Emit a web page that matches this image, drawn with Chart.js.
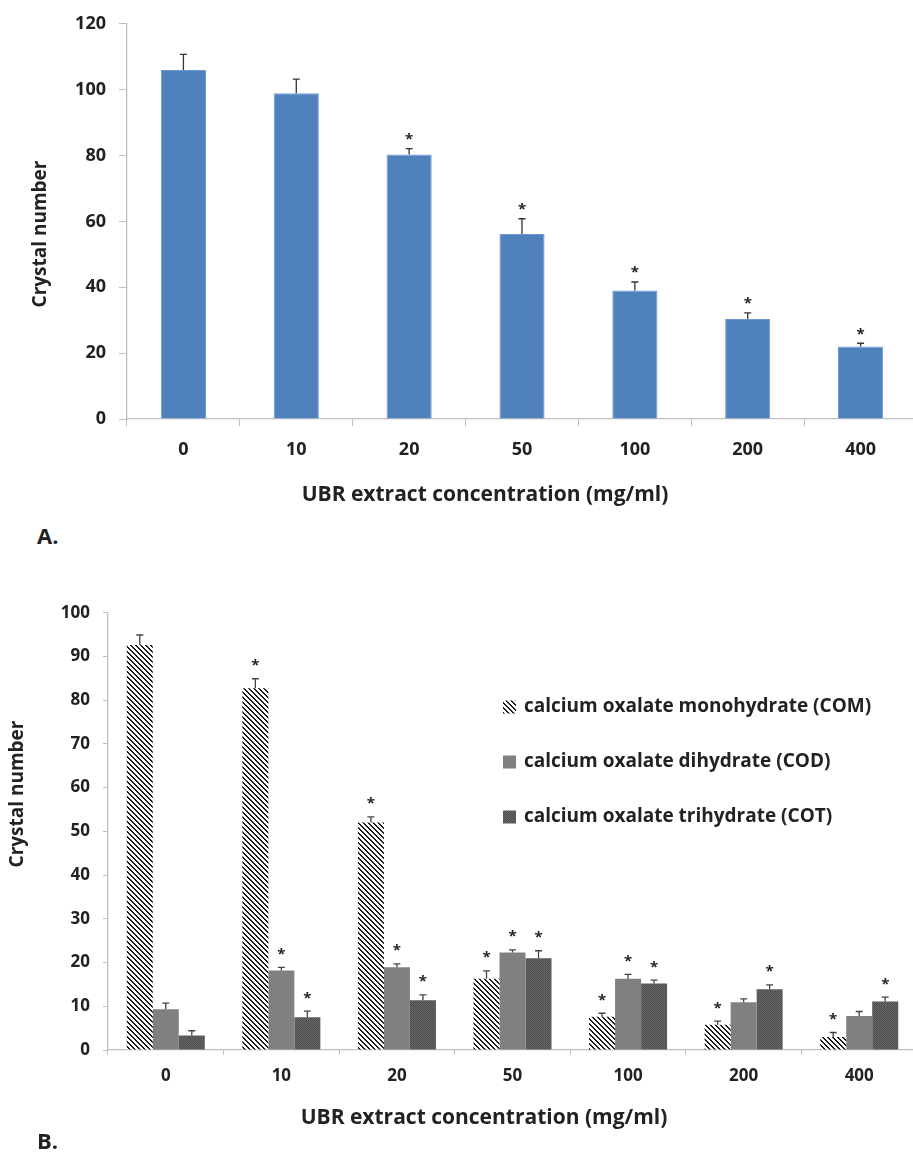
<!DOCTYPE html>
<html>
<head>
  <meta charset="utf-8">
  <title>Crystal number vs UBR extract concentration</title>
  <script src="https://cdn.jsdelivr.net/npm/chart.js"></script>
  <style>
    body { margin: 0; background: #fff; }
    #page { position: relative; width: 913px; height: 1156px; overflow: hidden; }
    canvas { position: absolute; left: 0; }
    #chartA { top: 0; }
    #chartB { top: 575px; }
    .panel { position: absolute; left: 37px; font: bold 22px "Open Sans", sans-serif; line-height: 22px; color: #222; }
  </style>
</head>
<body>
  <div id="page">
    <canvas id="chartA" width="920" height="520"></canvas>
    <canvas id="chartB" width="920" height="581"></canvas>
    <div class="panel" style="top:524px">A.</div>
    <div class="panel" style="top:1129px">B.</div>
  </div>

  <script>
    // shared categories
    var concentrations = ['0', '10', '20', '50', '100', '200', '400'];

    // panel A: total crystals
    var totalCrystals = [106.0, 98.9, 80.3, 56.2, 39.0, 30.4, 22.0];
    var totalErr      = [4.7, 4.3, 1.8, 4.6, 2.6, 1.8, 1.0];
    var totalSig      = [false, false, true, true, true, true, true];

    // panel B: crystal types
    var comValues = [92.6, 82.7, 52.0, 16.3, 7.6, 5.8, 3.0];
    var comErr    = [2.3, 2.2, 1.3, 1.8, 0.8, 0.8, 1.0];
    var comSig    = [false, true, true, true, true, true, true];
    var codValues = [9.3, 18.2, 18.9, 22.3, 16.3, 10.9, 7.8];
    var codErr    = [1.4, 0.7, 0.8, 0.6, 1.0, 0.8, 1.0];
    var codSig    = [false, true, true, true, true, false, false];
    var cotValues = [3.3, 7.5, 11.4, 21.0, 15.2, 13.9, 11.1];
    var cotErr    = [1.1, 1.4, 1.2, 1.7, 0.8, 1.0, 1.0];
    var cotSig    = [false, true, true, true, true, true, true];

    var yTicksA = { min: 0, max: 120, step: 20 };
    var yTicksB = { min: 0, max: 100, step: 10 };

    var FONT = '"Open Sans", sans-serif';
    var TEXT = '#222';
    var AXIS = '#bfbfbf';

    // small pixel patterns for the B bars
    function makePattern(size, pick) {
      var c = document.createElement('canvas');
      c.width = size; c.height = size;
      var g = c.getContext('2d');
      for (var px = 0; px < size; px++) {
        for (var py = 0; py < size; py++) {
          g.fillStyle = pick(px, py);
          g.fillRect(px, py, 1, 1);
        }
      }
      return g.createPattern(c, 'repeat');
    }
    var stripes = makePattern(5, function(x, y) {
      return (((x - y) % 5) + 5) % 5 < 2 ? '#1e1e1e' : '#ffffff';
    });
    var checker = makePattern(2, function(x, y) {
      return (x + y) % 2 ? '#4e4e4e' : '#666666';
    });

    // error bars, significance stars, axis titles and legend
    var annotate = {
      id: 'annotate',
      afterDatasetsDraw: function(chart, args, opts) {
        var ctx = chart.ctx;
        var yScale = chart.scales.y;
        ctx.save();
        chart.data.datasets.forEach(function(ds, di) {
          var meta = chart.getDatasetMeta(di);
          meta.data.forEach(function(bar, i) {
            var top = yScale.getPixelForValue(ds.data[i] + ds.errors[i]);
            ctx.strokeStyle = opts.errColor;
            ctx.lineWidth = 1.3;
            ctx.beginPath();
            ctx.moveTo(bar.x, bar.y);
            ctx.lineTo(bar.x, top);
            ctx.moveTo(bar.x - opts.cap, top);
            ctx.lineTo(bar.x + opts.cap, top);
            ctx.stroke();
            if (ds.significant[i]) {
              ctx.fillStyle = TEXT;
              ctx.font = opts.starFont;
              ctx.textAlign = 'center';
              ctx.textBaseline = 'alphabetic';
              var m = ctx.measureText('*');
              var cy = top - opts.starGap;
              ctx.fillText('*', bar.x, cy + (m.actualBoundingBoxAscent - m.actualBoundingBoxDescent) / 2);
            }
          });
        });
        ctx.restore();
      },
      afterDraw: function(chart, args, opts) {
        var ctx = chart.ctx;
        ctx.save();
        ctx.fillStyle = TEXT;
        ctx.textAlign = 'center';
        ctx.textBaseline = 'middle';
        ctx.font = opts.xTitleFont;
        ctx.fillText(chart.options.scales.x.title.text, opts.xTitleAt[0], opts.xTitleAt[1]);
        ctx.save();
        ctx.translate(opts.yTitleAt[0], opts.yTitleAt[1]);
        ctx.rotate(-Math.PI / 2);
        ctx.font = opts.yTitleFont;
        ctx.fillText(chart.options.scales.y.title.text, 0, 0);
        ctx.restore();

        if (opts.legend) {
          var L = opts.legend;
          ctx.textAlign = 'left';
          ctx.font = L.font;
          chart.data.datasets.forEach(function(ds, di) {
            var cy = L.y + di * L.dy;
            ctx.fillStyle = ds.backgroundColor;
            ctx.fillRect(L.x, cy - L.box / 2, L.box, L.box);
            ctx.fillStyle = TEXT;
            ctx.fillText(ds.label, L.x + L.box + L.gap, cy);
          });
        }
        ctx.restore();
      }
    };

    function axes(yt, opt) {
      return {
        x: {
          title: { display: false, text: 'UBR extract concentration (mg/ml)' },
          grid: { offset: true, drawOnChartArea: false, tickLength: opt.xTick, color: AXIS },
          border: { color: AXIS, width: 1.3 },
          ticks: { color: TEXT, padding: opt.xPad, font: { family: FONT, weight: 'bold', size: opt.tickSize } },
          afterFit: function(s) { s.height = opt.xHeight; }
        },
        y: {
          min: yt.min, max: yt.max,
          title: { display: false, text: 'Crystal number' },
          grid: { drawOnChartArea: false, tickLength: opt.yTick, color: AXIS },
          border: { color: AXIS, width: 1.3 },
          ticks: { stepSize: yt.step, color: TEXT, padding: 13, font: { family: FONT, weight: 'bold', size: opt.tickSize } },
          afterFit: function(s) { s.width = opt.yWidth; }
        }
      };
    }

    new Chart(document.getElementById('chartA'), {
      type: 'bar',
      data: {
        labels: concentrations,
        datasets: [{
          label: 'Crystal number',
          data: totalCrystals,
          errors: totalErr,
          significant: totalSig,
          backgroundColor: '#4f81bd',
          borderColor: '#6d98cf',
          borderWidth: 1,
          categoryPercentage: 1,
          barPercentage: 0.4
        }]
      },
      options: {
        responsive: false,
        animation: false,
        layout: { padding: { top: 21, right: 3, left: 0, bottom: 0 } },
        scales: axes(yTicksA, { xTick: 7, yTick: 8, xPad: 13, tickSize: 18, xHeight: 101, yWidth: 127 }),
        plugins: {
          legend: { display: false },
          tooltip: { enabled: false },
          annotate: {
            errColor: '#333', cap: 3.5, starGap: 12, starFont: 'bold 15px ' + FONT,
            xTitleFont: 'bold 21px ' + FONT, xTitleAt: [485, 495],
            yTitleFont: 'bold 19px ' + FONT, yTitleAt: [41, 234]
          }
        }
      },
      plugins: [annotate]
    });

    new Chart(document.getElementById('chartB'), {
      type: 'bar',
      data: {
        labels: concentrations,
        datasets: [
          { label: 'calcium oxalate monohydrate (COM)', data: comValues, errors: comErr, significant: comSig, backgroundColor: stripes },
          { label: 'calcium oxalate dihydrate (COD)', data: codValues, errors: codErr, significant: codSig, backgroundColor: '#808080' },
          { label: 'calcium oxalate trihydrate (COT)', data: cotValues, errors: cotErr, significant: cotSig, backgroundColor: checker }
        ]
      },
      options: {
        responsive: false,
        animation: false,
        datasets: { bar: { categoryPercentage: 0.675, barPercentage: 1 } },
        layout: { padding: { top: 37.7, right: 3, left: 0, bottom: 0 } },
        scales: axes(yTicksB, { xTick: 5, yTick: 5, xPad: 11, tickSize: 17, xHeight: 106, yWidth: 108 }),
        plugins: {
          legend: { display: false },
          tooltip: { enabled: false },
          annotate: {
            errColor: '#444', cap: 3.5, starGap: 16, starFont: 'bold 15px ' + FONT,
            xTitleFont: 'bold 21px ' + FONT, xTitleAt: [484, 543],
            yTitleFont: 'bold 19px ' + FONT, yTitleAt: [18, 219],
            legend: { x: 503, y: 132, dy: 55, box: 13, gap: 8, font: 'bold 19px ' + FONT }
          }
        }
      },
      plugins: [annotate]
    });
  </script>
</body>
</html>
